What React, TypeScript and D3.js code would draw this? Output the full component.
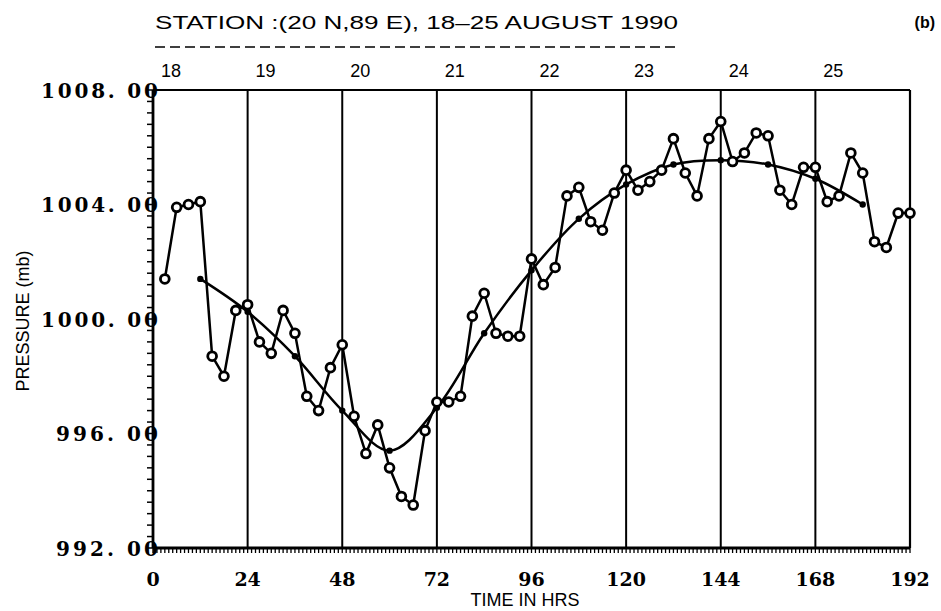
import React from 'react';
import * as d3 from 'd3';

// observed pressure, every 3 hours
const obsHours = [3, 6, 9, 12, 15, 18, 21, 24, 27, 30, 33, 36, 39, 42, 45, 48, 51, 54, 57, 60, 63, 66, 69, 72,
  75, 78, 81, 84, 87, 90, 93, 96, 99, 102, 105, 108, 111, 114, 117, 120, 123, 126, 129, 132, 135, 138, 141, 144,
  147, 150, 153, 156, 159, 162, 165, 168, 171, 174, 177, 180, 183, 186, 189, 192];
const obsPressure = [1001.4, 1003.9, 1004.0, 1004.1, 998.7, 998.0, 1000.3, 1000.5, 999.2, 998.8, 1000.3, 999.5,
  997.3, 996.8, 998.3, 999.1, 996.6, 995.3, 996.3, 994.8, 993.8, 993.5, 996.1, 997.1,
  997.1, 997.3, 1000.1, 1000.9, 999.5, 999.4, 999.4, 1002.1, 1001.2, 1001.8, 1004.3, 1004.6, 1003.4, 1003.1, 1004.4, 1005.2,
  1004.5, 1004.8, 1005.2, 1006.3, 1005.1, 1004.3, 1006.3, 1006.9, 1005.5, 1005.8, 1006.5, 1006.4, 1004.5, 1004.0,
  1005.3, 1005.3, 1004.1, 1004.3, 1005.8, 1005.1, 1002.7, 1002.5, 1003.7, 1003.7];

// smoothed pressure
const smoothHours = [12, 24, 36, 48, 60, 72, 84, 96, 108, 120, 132, 144, 156, 168, 180];
const smoothPressure = [1001.4, 1000.25, 998.7, 996.8, 995.4, 996.9, 999.5, 1001.7, 1003.5, 1004.7, 1005.4,
  1005.55, 1005.4, 1004.9, 1004.0];

const xTicks = [0, 24, 48, 72, 96, 120, 144, 168, 192];
const yTicks = [992, 996, 1000, 1004, 1008];
const yTickLabels = ['992. 00', '996. 00', '1000. 00', '1004. 00', '1008. 00'];
const dayHours = [0, 24, 48, 72, 96, 120, 144, 168];
const dayLabels = ['18', '19', '20', '21', '22', '23', '24', '25'];

const W = 941;
const H = 611;
const left = 153, right = 910, top = 90, bottom = 548;

export default function App() {
  const x = d3.scaleLinear().domain([0, 192]).range([left, right]);
  const y = d3.scaleLinear().domain([992, 1008]).range([bottom, top]);

  const obs = obsHours.map((h, i) => [h, obsPressure[i]] as [number, number]);
  const smooth = smoothHours.map((h, i) => [h, smoothPressure[i]] as [number, number]);

  const obsLine = d3.line<[number, number]>().x(d => x(d[0])).y(d => y(d[1]));
  const smoothLine = d3.line<[number, number]>().x(d => x(d[0])).y(d => y(d[1])).curve(d3.curveCatmullRom);

  const hourTicks = d3.range(0, 193, 1);
  const mbTicks = d3.range(992, 1008.01, 0.4);

  return (
    <svg width={W} height={H} style={{position: 'absolute', left: 0, top: 0, background: '#fff'}}>
      <rect width={W} height={H} fill="#fff" />
      {/* title */}
      <text x={155} y={29} fontFamily="Liberation Sans, Arial, sans-serif" fontSize={19}
            textLength={523} lengthAdjust="spacingAndGlyphs">STATION :(20 N,89 E), 18–25 AUGUST 1990</text>
      <line x1={155} x2={678} y1={47} y2={47} stroke="#000" strokeWidth={1.6} strokeDasharray="10,5" />
      <text x={935} y={28} textAnchor="end" fontFamily="Liberation Sans, Arial, sans-serif" fontWeight="bold"
            fontSize={16}>(b)</text>

      {/* day labels */}
      {dayHours.map((h, i) => (
        <text key={'d' + i} x={x(h) + 18} y={77} textAnchor="middle"
              fontFamily="Liberation Sans, Arial, sans-serif" fontSize={18}>{dayLabels[i]}</text>
      ))}

      {/* day grid lines */}
      {dayHours.slice(1).map(h => (
        <line key={'g' + h} x1={x(h)} x2={x(h)} y1={top} y2={bottom} stroke="#000" strokeWidth={2} />
      ))}

      {/* frame */}
      <line x1={left} x2={right} y1={top} y2={top} stroke="#000" strokeWidth={2.2} />
      <line x1={right} x2={right} y1={top} y2={bottom} stroke="#000" strokeWidth={2.2} />
      <line x1={left} x2={left} y1={top} y2={bottom} stroke="#000" strokeWidth={2.8} />
      <line x1={left} x2={right} y1={bottom} y2={bottom} stroke="#000" strokeWidth={2.8} />

      {/* minor ticks */}
      {hourTicks.map(h => (
        <line key={'ht' + h} x1={x(h)} x2={x(h)} y1={bottom} y2={bottom + 5} stroke="#000" strokeWidth={1.3} />
      ))}
      {mbTicks.map((v, i) => (
        <line key={'mt' + i} x1={left - 6} x2={left} y1={y(v)} y2={y(v)} stroke="#000" strokeWidth={1.5} />
      ))}

      {/* tick labels */}
      {xTicks.map(t => (
        <text key={'xt' + t} x={x(t)} y={586} textAnchor="middle" fontFamily="DejaVu Serif, serif"
              fontWeight="bold" fontSize={19}>{t}</text>
      ))}
      {yTicks.map((t, i) => (
        <text key={'yt' + t} x={158} y={y(t) + 7.5} textAnchor="end" fontFamily="DejaVu Serif, serif"
              fontWeight="bold" fontSize={20} textLength={yTickLabels[i].length * 15 - 3}
              lengthAdjust="spacing">{yTickLabels[i]}</text>
      ))}

      {/* axis titles */}
      <text x={525} y={606} textAnchor="middle" fontFamily="Liberation Sans, Arial, sans-serif" fontSize={18}>TIME IN HRS</text>
      <text transform={`translate(29,321) rotate(-90)`} textAnchor="middle"
            fontFamily="Liberation Sans, Arial, sans-serif" fontSize={18}>PRESSURE (mb)</text>

      {/* smoothed curve */}
      <path d={smoothLine(smooth) || ''} fill="none" stroke="#000" strokeWidth={2.5} />
      {smooth.map((d, i) => (
        <circle key={'s' + i} cx={x(d[0])} cy={y(d[1])} r={3.2} fill="#000" />
      ))}

      {/* observations */}
      <path d={obsLine(obs) || ''} fill="none" stroke="#000" strokeWidth={2.5} />
      {obs.map((d, i) => (
        <circle key={'o' + i} cx={x(d[0])} cy={y(d[1])} r={4.4} fill="#fff" stroke="#000" strokeWidth={2.8} />
      ))}
    </svg>
  );
}
